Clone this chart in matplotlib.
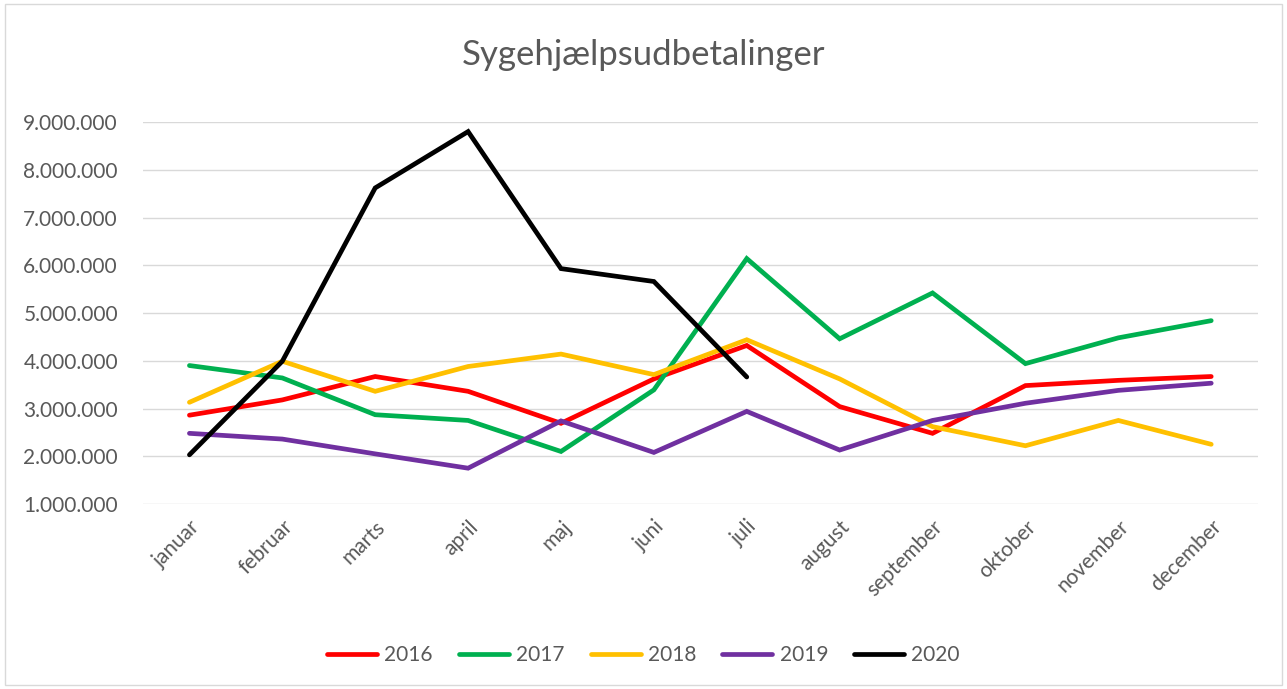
import matplotlib.pyplot as plt
from matplotlib.patches import Rectangle
from matplotlib.ticker import FuncFormatter

plt.rcParams['font.family'] = ['Lato', 'DejaVu Sans']

# Data
maaneder = ["januar", "februar", "marts", "april", "maj", "juni", "juli",
            "august", "september", "oktober", "november", "december"]

y2016 = [2860000, 3180000, 3670000, 3360000, 2690000, 3620000, 4320000,
         3040000, 2480000, 3480000, 3590000, 3670000]
y2017 = [3900000, 3640000, 2870000, 2750000, 2100000, 3390000, 6140000,
         4460000, 5420000, 3940000, 4480000, 4840000]
y2018 = [3130000, 3990000, 3360000, 3880000, 4140000, 3710000, 4440000,
         3620000, 2620000, 2220000, 2750000, 2250000]
y2019 = [2480000, 2360000, 2050000, 1750000, 2740000, 2080000, 2940000,
         2130000, 2750000, 3110000, 3380000, 3530000]
y2020 = [2030000, 3990000, 7620000, 8800000, 5930000, 5660000, 3660000]

serier = [("2016", y2016, "#FF0000"),
          ("2017", y2017, "#00B050"),
          ("2018", y2018, "#FFC000"),
          ("2019", y2019, "#7030A0"),
          ("2020", y2020, "#000000")]

tekstfarve = "#595959"

fig = plt.figure(figsize=(12.87, 6.89), dpi=100)
ax = fig.add_axes([0.1111, 0.2685, 0.8661, 0.5544])

for navn, vaerdier, farve in serier:
    ax.plot(range(len(vaerdier)), vaerdier, color=farve, lw=3.4,
            label=navn, solid_capstyle="round", solid_joinstyle="miter",
            clip_on=False, zorder=3)

ax.set_xlim(-0.5, 11.5)
ax.set_ylim(1000000, 9000000)
ax.set_yticks(range(1000000, 9000001, 1000000))
ax.yaxis.set_major_formatter(FuncFormatter(lambda v, p: f"{int(v):,}".replace(",", ".")))
ax.set_xticks(range(len(maaneder)))
ax.set_xticklabels(maaneder, rotation=45, ha="right", rotation_mode="anchor")

ax.grid(axis="y", color="#D9D9D9", lw=1.0, zorder=0)
for s in ax.spines.values():
    s.set_visible(False)
ax.tick_params(axis="both", length=0, labelsize=15, labelcolor=tekstfarve)
ax.tick_params(axis="y", pad=18)
ax.tick_params(axis="x", pad=9)

fig.text(0.5, 0.92, "Sygehjælpsudbetalinger", ha="center", va="center",
         fontsize=25, color=tekstfarve)

leg = fig.legend(loc="center", bbox_to_anchor=(0.5, 0.049), ncol=5,
                 frameon=False, fontsize=15, handlelength=2.4,
                 handletextpad=0.35, columnspacing=1.25)
for t in leg.get_texts():
    t.set_color(tekstfarve)

fig.patches.append(Rectangle((0.004, 0.006), 0.992, 0.988, transform=fig.transFigure,
                             fill=False, edgecolor="#D9D9D9", lw=1.0))

fig.savefig("out.png", dpi=100)
